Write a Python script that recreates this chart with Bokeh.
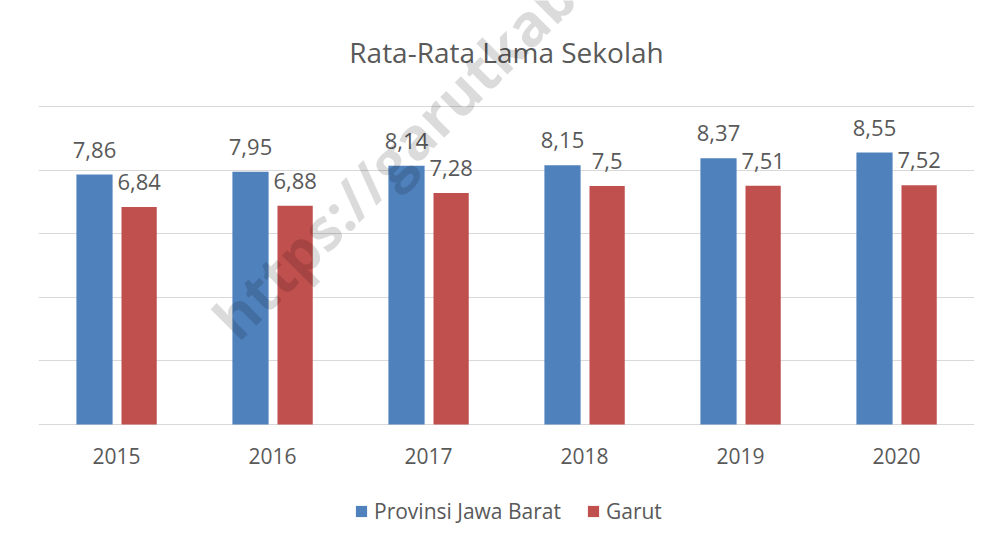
from bokeh.plotting import figure
from bokeh.models import (FactorRange, Range1d, ColumnDataSource, Legend, LegendItem, Label)
from bokeh.transform import dodge
from bokeh.core.properties import value
from bokeh.embed import file_html
from bokeh.resources import INLINE
import math

years = ["2015", "2016", "2017", "2018", "2019", "2020"]
jabar = [7.86, 7.95, 8.14, 8.15, 8.37, 8.55]
garut = [6.84, 6.88, 7.28, 7.5, 7.51, 7.52]
series_names = ["Provinsi Jawa Barat", "Garut"]
grid_ticks = [0, 2, 4, 6, 8, 10]
title_text = "Rata-Rata Lama Sekolah"
watermark = "https://garutkab.go.id"

BLUE = "#4F81BD"
RED = "#C0504D"
TXT = "#595959"
GRID = "#D9D9D9"
FONT = "Open Sans"

def fmt(v):
    return str(v).replace(".", ",")

src = ColumnDataSource(dict(
    year=years, jabar=jabar, garut=garut,
    jabar_lbl=[fmt(v) for v in jabar], garut_lbl=[fmt(v) for v in garut],
    base=[0] * len(years),
))

# The frame covers the full height: value 0 sits on the baseline, 10 on the top gridline;
# the space above holds the title, the space below holds the year labels and legend.
p = figure(x_range=FactorRange(*years), y_range=Range1d(-116 / 31.8, 424 / 31.8),
           width=991, height=540, output_backend="svg", toolbar_location=None,
           min_border_left=38, min_border_right=17, min_border_top=0,
           min_border_bottom=0)

r1 = p.vbar(x=dodge("year", -0.141, range=p.x_range), top="jabar", width=0.232,
            source=src, color=BLUE, line_color=None)
r2 = p.vbar(x=dodge("year", 0.145, range=p.x_range), top="garut", width=0.226,
            source=src, color=RED, line_color=None)

p.text(x=dodge("year", -0.141, range=p.x_range), y="jabar", text="jabar_lbl", source=src,
       text_font=value(FONT), text_font_size="22px", text_color=TXT,
       text_align="center", text_baseline="alphabetic", y_offset=-25)
p.text(x=dodge("year", 0.145, range=p.x_range), y="garut", text="garut_lbl", source=src,
       text_font=value(FONT), text_font_size="22px", text_color=TXT,
       text_align="center", text_baseline="alphabetic", y_offset=-25)

# category (year) labels under the baseline
p.text(x="year", y="base", text="year", source=src,
       text_font=value(FONT), text_font_size="21px", text_color=TXT,
       text_align="center", text_baseline="alphabetic", y_offset=31)

p.add_layout(Label(x=468, y=489, x_units="screen", y_units="screen", text=title_text,
                   text_align="center", text_baseline="alphabetic",
                   text_font=FONT, text_font_size="28px", text_color=TXT))

p.add_layout(Label(x=212, y=185, x_units="screen", y_units="screen", text=watermark,
                   angle=math.radians(45), text_font=FONT, text_font_size="58px",
                   text_font_style="bold", text_color="black", text_alpha=0.14))

p.xaxis.visible = False
p.yaxis.visible = False
p.xgrid.grid_line_color = None
p.ygrid.grid_line_color = GRID
p.ygrid.ticker = grid_ticks
p.outline_line_color = None

legend = Legend(items=[LegendItem(label=series_names[0], renderers=[r1]),
                       LegendItem(label=series_names[1], renderers=[r2])],
                orientation="horizontal", location=(316, 15))
legend.label_text_font = FONT
legend.label_text_font_size = "21px"
legend.label_text_color = TXT
legend.glyph_width = 14
legend.glyph_height = 14
legend.label_standoff = 6
legend.spacing = 25
legend.padding = 0
legend.margin = 0
legend.border_line_color = None
legend.background_fill_alpha = 0
p.add_layout(legend, "center")

open("out.html", "w").write(file_html(p, INLINE))
